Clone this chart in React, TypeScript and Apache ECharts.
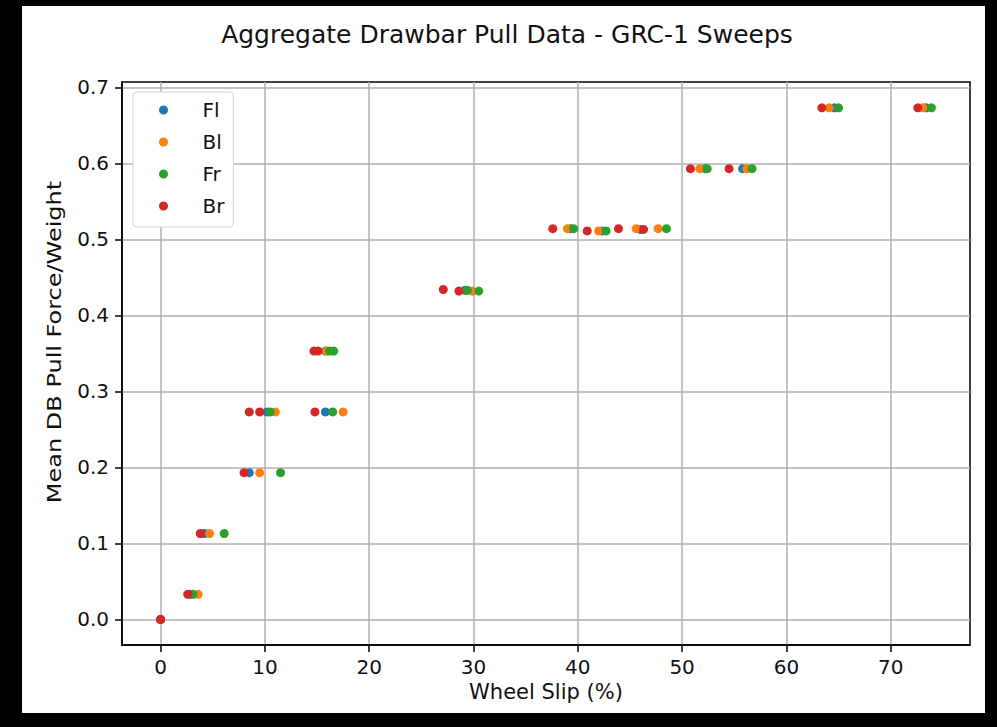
import React, { useEffect, useRef } from "react";
import * as echarts from "echarts";

const seriesNames = ["Fl", "Bl", "Fr", "Br"];
const seriesColors = ["#1f77b4", "#ff7f0e", "#2ca02c", "#d62728"];

const flSlip = [0, 2.9, 4.2, 8.5, 10.2, 15.8, 15.8, 29.2, 39.3, 42.3, 46.0, 52.2, 55.8, 64.6, 73.4];
const flPull = [0, 0.033, 0.113, 0.193, 0.273, 0.273, 0.353, 0.433, 0.514, 0.511, 0.513, 0.593, 0.593, 0.673, 0.673];

const blSlip = [0, 3.6, 4.7, 9.5, 11.0, 17.5, 15.9, 29.9, 39.0, 42.0, 45.6, 47.7, 51.7, 56.2, 64.1, 73.1];
const blPull = [0, 0.033, 0.113, 0.193, 0.273, 0.273, 0.353, 0.432, 0.514, 0.511, 0.514, 0.514, 0.593, 0.593, 0.673, 0.673];

const frSlip = [0, 3.1, 6.1, 11.5, 10.5, 16.5, 16.2, 16.6, 29.4, 30.5, 39.6, 42.7, 48.5, 52.4, 56.7, 65.0, 73.9];
const frPull = [0, 0.033, 0.113, 0.193, 0.273, 0.273, 0.353, 0.353, 0.433, 0.432, 0.514, 0.511, 0.514, 0.593, 0.593, 0.673, 0.673];

const brSlip = [0, 2.6, 3.8, 8.0, 8.5, 9.5, 14.8, 14.7, 15.1, 27.1, 28.6, 37.6, 40.9, 43.9, 46.3, 50.8, 54.5, 63.4, 72.6];
const brPull = [0, 0.033, 0.113, 0.193, 0.273, 0.273, 0.273, 0.353, 0.353, 0.434, 0.432, 0.514, 0.511, 0.514, 0.513, 0.593, 0.593, 0.673, 0.673];

const xTicks = [0, 10, 20, 30, 40, 50, 60, 70];
const yTicks = [0, 0.1, 0.2, 0.3, 0.4, 0.5, 0.6, 0.7];

const titleText = "Aggregate Drawbar Pull Data - GRC-1 Sweeps";
const xName = "Wheel Slip (%)";
const yName = "Mean DB Pull Force/Weight";

const FONT = "DejaVu Sans";

function zip(xs: number[], ys: number[]) {
  return xs.map((x, i) => [x, ys[i]]);
}

export default function App() {
  const ref = useRef<HTMLDivElement>(null);
  useEffect(() => {
    if (!ref.current) return;
    const chart = echarts.init(ref.current, null, { renderer: "svg" });
    const dataSets = [zip(flSlip, flPull), zip(blSlip, blPull), zip(frSlip, frPull), zip(brSlip, brPull)];
    chart.setOption({
      animation: false,
      backgroundColor: "transparent",
      graphic: [
        {
          type: "text",
          x: 507,
          y: 34,
          style: {
            text: titleText,
            fontFamily: FONT,
            fontSize: 25,
            fill: "#111",
            textAlign: "center",
            textVerticalAlign: "middle",
          },
        },
        {
          type: "text",
          x: 54,
          y: 342,
          rotation: Math.PI / 2,
          scaleX: 1.2,
          style: {
            text: yName,
            fontFamily: FONT,
            fontSize: 20,
            fill: "#111",
            textAlign: "center",
            textVerticalAlign: "middle",
          },
        },
      ],
      legend: {
        data: seriesNames,
        orient: "vertical",
        left: 133,
        top: 92,
        icon: "circle",
        itemWidth: 30,
        itemHeight: 9,
        itemGap: 10,
        padding: [7, 9, 10, 26],
        backgroundColor: "#fff",
        borderColor: "#d6d6d6",
        borderWidth: 1,
        borderRadius: 4,
        textStyle: { fontFamily: FONT, fontSize: 20, color: "#111", lineHeight: 22, padding: [0, 0, 0, 19] },
      },
      grid: {
        left: 122,
        top: 82,
        width: 848,
        height: 563,
        show: true,
        borderColor: "#000",
        borderWidth: 1.5,
        backgroundColor: "#fff",
        containLabel: false,
      },
      xAxis: {
        type: "value",
        min: -3.7,
        max: 77.6,
        name: xName,
        nameLocation: "middle",
        nameGap: 36,
        nameTextStyle: { fontFamily: FONT, fontSize: 21, color: "#111" },
        axisLine: { show: true, onZero: false, lineStyle: { color: "#000", width: 1.5 } },
        axisTick: { show: true, length: 7, lineStyle: { color: "#000", width: 1.5 }, customValues: xTicks },
        axisLabel: {
          customValues: xTicks,
          margin: 12,
          fontFamily: FONT,
          fontSize: 20,
          color: "#111",
          formatter: (v: number) => String(v),
        },
        splitLine: { show: true, lineStyle: { color: "#b0b0b0", width: 1.5 } },
      },
      yAxis: {
        type: "value",
        min: -0.0337,
        max: 0.707,
        axisLine: { show: true, onZero: false, lineStyle: { color: "#000", width: 1.5 } },
        axisTick: { show: true, length: 7, lineStyle: { color: "#000", width: 1.5 }, customValues: yTicks },
        axisLabel: {
          customValues: yTicks,
          margin: 13,
          fontFamily: FONT,
          fontSize: 20,
          color: "#111",
          formatter: (v: number) => v.toFixed(1),
        },
        splitLine: { show: true, lineStyle: { color: "#b0b0b0", width: 1.5 } },
      },
      series: seriesNames.map((name, i) => ({
        name,
        type: "scatter",
        symbol: "circle",
        symbolSize: 9,
        itemStyle: { color: seriesColors[i], opacity: 1 },
        data: dataSets[i],
      })),
    });
    return () => chart.dispose();
  }, []);

  return (
    <div style={{ position: "absolute", left: 0, top: 0, width: 997, height: 727, background: "#000" }}>
      <div style={{ position: "absolute", left: 22, top: 6, width: 963, height: 707, background: "#fff" }} />
      <div ref={ref} style={{ position: "absolute", left: 0, top: 0, width: 997, height: 727 }} />
    </div>
  );
}
